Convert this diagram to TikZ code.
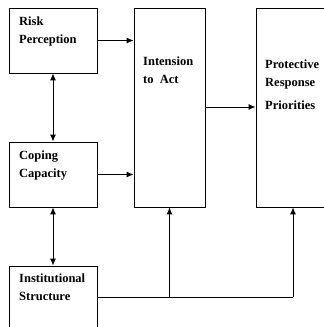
\documentclass[tikz,border=0pt]{standalone}
\usepackage{fontspec}
\setmainfont{Liberation Serif}
\usetikzlibrary{arrows.meta}

\begin{document}
\begin{tikzpicture}[x=1pt, y=-1pt,
    box/.style={rectangle, draw, line width=.8pt, inner sep=0pt},
    txt/.style={anchor=north west, inner sep=0pt, align=left, font=\fontsize{12.5}{17.5}\selectfont\bfseries},
    arr/.style={-{Latex[length=7pt,width=6pt]}, line width=1pt},
    dbl/.style={{Latex[length=7pt,width=6pt]}-{Latex[length=7pt,width=6pt]}, line width=1pt}]
    \clip (0,0) rectangle (324,327);
    \fill[white] (0,0) rectangle (324,327);

    \node[box, minimum width=88pt, minimum height=65pt] (risk)      at (53, 40.5)   {};
    \node[box, minimum width=88pt, minimum height=65pt] (coping)    at (53, 174.5)  {};
    \node[box, minimum width=88pt, minimum height=62pt] (inst)      at (53, 297)    {};
    \node[box, minimum width=71pt, minimum height=199pt] (intension) at (169.5, 107.5) {};
    \node[box, minimum width=74pt, minimum height=199pt] (protect)   at (293, 107.5) {};

    \node[txt] (risk-txt)      at (19, 17)  {Risk\\Perception};
    \node[txt] (coping-txt)    at (19, 151) {Coping\\Capacity};
    \node[txt] (inst-txt)      at (19, 274) {Institutional\\Structure};
    \node[txt] (intension-txt) at (143, 57) {Intension\\to\ \ Act};
    \node[txt] (protect-txt)   at (265, 60) {Protective\\Response\\[6pt]Priorities};

    \draw[arr] (risk.east) -- (risk.east -| intension.west);
    \draw[arr] (coping.east) -- (coping.east -| intension.west);
    \draw[arr] (intension.east |- 0,107) -- (protect.west |- 0,107);
    \draw[dbl] (risk.south) -- (coping.north);
    \draw[dbl] (coping.south) -- (inst.north);

    \coordinate (joint1) at (inst.east -| intension.south);
    \coordinate (joint2) at (inst.east -| protect.south);
    \draw[line width=1pt] (inst.east) -- (joint2);
    \draw[arr] (joint1) -- (intension.south);
    \draw[arr] (joint2) -- (protect.south);
\end{tikzpicture}
\end{document}
